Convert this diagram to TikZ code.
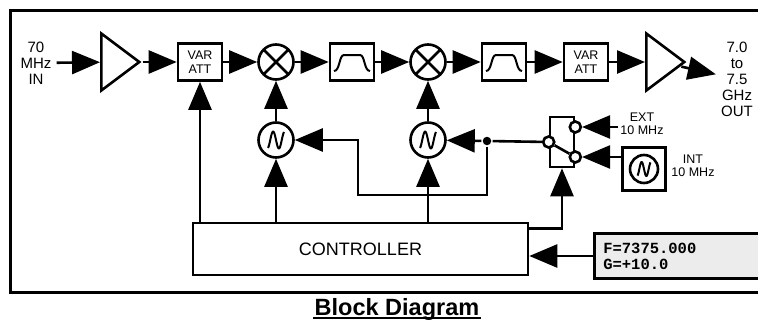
\documentclass[tikz,border=0pt]{standalone}
\usepackage{fontspec}
\setmainfont{Liberation Sans}
\setmonofont{Liberation Mono}
\usetikzlibrary{arrows.meta,shapes.geometric,positioning}

\begin{document}
\begin{tikzpicture}[x=1pt,y=-1pt,->,>={Triangle[length=28pt,width=23pt]},line width=2.6pt,node distance=76pt]
	\tikzstyle{every node}=[font=\fontsize{15}{16}\selectfont]
	\tikzstyle{lbl}=[align=center,inner sep=4pt]
	\tikzstyle{small}=[font=\fontsize{12.5}{13}\selectfont]
	\tikzstyle{att}=[draw,minimum width=44pt,minimum height=37pt,inner sep=0pt,align=center,font=\fontsize{12.5}{14}\selectfont]
	\tikzstyle{bpf}=[draw,minimum width=44pt,minimum height=37pt,inner sep=0pt,
		path picture={\draw[-,line width=2pt,shift={(path picture bounding box.center)}] (-18,9) .. controls (-12,9) and (-13,-7) .. (-8,-7) -- (8,-7) .. controls (13,-7) and (12,9) .. (18,9);}]
	\tikzstyle{mix}=[draw,circle,minimum size=35pt,inner sep=0pt,
		path picture={\draw[-] (path picture bounding box.north west) -- (path picture bounding box.south east) (path picture bounding box.south west) -- (path picture bounding box.north east);}]
	\tikzstyle{osc}=[draw,circle,minimum size=35pt,inner sep=0pt,
		path picture={\draw[-,line width=2pt,shift={(path picture bounding box.center)}] plot[domain=-8:8,samples=40,smooth] (\x,{8.5*sin(\x*31.25)});}]
	\tikzstyle{xtal}=[draw,circle,minimum size=28pt,inner sep=0pt,
		path picture={\draw[-,line width=2pt,shift={(path picture bounding box.center)}] plot[domain=-6.5:6.5,samples=40,smooth] (\x,{7*sin(\x*38.5)});}]
	\tikzstyle{amp}=[draw,isosceles triangle,isosceles triangle stretches,minimum width=57pt,minimum height=38pt,inner sep=0pt,anchor=west]
	\tikzstyle{term}=[draw,circle,fill=white,minimum size=11pt,inner sep=0pt]
	\tikzstyle{dot}=[circle,fill,minimum size=8.5pt,inner sep=0pt]
	\useasboundingbox (0,0) rectangle (758,324);
	% frame
	\draw[-,line width=3pt] (758,10.5) -- (10.5,10.5) -- (10.5,292) -- (758,292);
	% signal chain
	\node[lbl]  (in)   at (36,63)              {70\\MHz\\IN};
	\node[amp]  (amp1) at (100,62)             {};
	\node[att]  (att1) at (200,62)             {VAR\\ATT};
	\node[mix]  (mix1) [right of=att1]         {};
	\node[bpf]  (bpf1) [right of=mix1]         {};
	\node[mix]  (mix2) [right of=bpf1]         {};
	\node[bpf]  (bpf2) [right of=mix2]         {};
	\node[att]  (att2) [right of=bpf2, xshift=6pt] {VAR\\ATT};
	\node[amp]  (amp2) at (645,62)             {};
	\node[lbl]  (out)  at (737,79)             {7.0\\to\\7.5\\GHz\\OUT};
	\draw (in) -- (amp1);
	\draw (amp1) -- (att1);
	\draw (att1) -- (mix1);
	\draw (mix1) -- (bpf1);
	\draw (bpf1) -- (mix2);
	\draw (mix2) -- (bpf2);
	\draw (bpf2) -- (att2);
	\draw (att2) -- (amp2);
	\draw (amp2) -- (out);
	% local oscillators
	\node[osc]  (lo1)  [below of=mix1, node distance=78pt] {};
	\node[osc]  (lo2)  [below of=mix2, node distance=78pt] {};
	\draw (lo1) -- (mix1);
	\draw (lo2) -- (mix2);
	\node[dot]  (jn)   at (487,141)            {};
	\coordinate (bend) at (358,195);
	\draw (jn) -- (lo2);
	\draw (jn) |- (bend) |- (lo1);
	% reference switch
	\node[draw,minimum width=24pt,minimum height=50pt,inner sep=0pt] (sw) at (562,142) {};
	\node[term] (swc)  at (sw.west)            {};
	\node[term] (swe)  at ([yshift=15pt]sw.east)  {};
	\node[term] (swi)  at ([yshift=-15pt]sw.east) {};
	\draw[-] (swc) -- (swi);
	\draw[-] (jn) -- (swc);
	\coordinate (extin) at (618,127);
	\node[lbl,small,inner sep=0pt] (ext) at (642,124) {EXT\\10 MHz};
	\draw (extin) -- (swe);
	\node[draw,minimum size=43pt,inner sep=0pt] (xo) at (644,169) {};
	\node[xtal] (xosc) at (xo) {};
	\node[lbl,small,inner sep=0pt] (int) at (693,166) {INT\\10 MHz};
	\draw (xo.west |- swi) -- (swi);
	% controller and display
	\node[draw,minimum width=335pt,minimum height=52pt,font=\fontsize{18}{20}\selectfont] (ctl) at (360.5,249) {CONTROLLER};
	\draw (ctl.north -| att1) -- (att1);
	\draw (ctl.north -| lo1) -- (lo1);
	\draw (ctl.north -| lo2) -- (lo2);
	\draw ([yshift=-7pt]ctl.north east) -| (sw.south);
	\node[draw,fill=gray!15,anchor=west,text width=160pt,inner sep=9pt,align=left,font=\fontsize{15.5}{16}\selectfont\ttfamily\bfseries] (disp) at (593,256) {F=7375.000\\G=+10.0};
	\draw (disp.west) -- (disp.west -| ctl.east);
	% caption
	\node[inner sep=0pt,font=\fontsize{23.5}{26}\selectfont\bfseries] (title) at (397,309) {Block Diagram};
	\draw[-,line width=2pt] ([yshift=-3pt]title.base west) -- ([yshift=-3pt]title.base east);
\end{tikzpicture}
\end{document}
